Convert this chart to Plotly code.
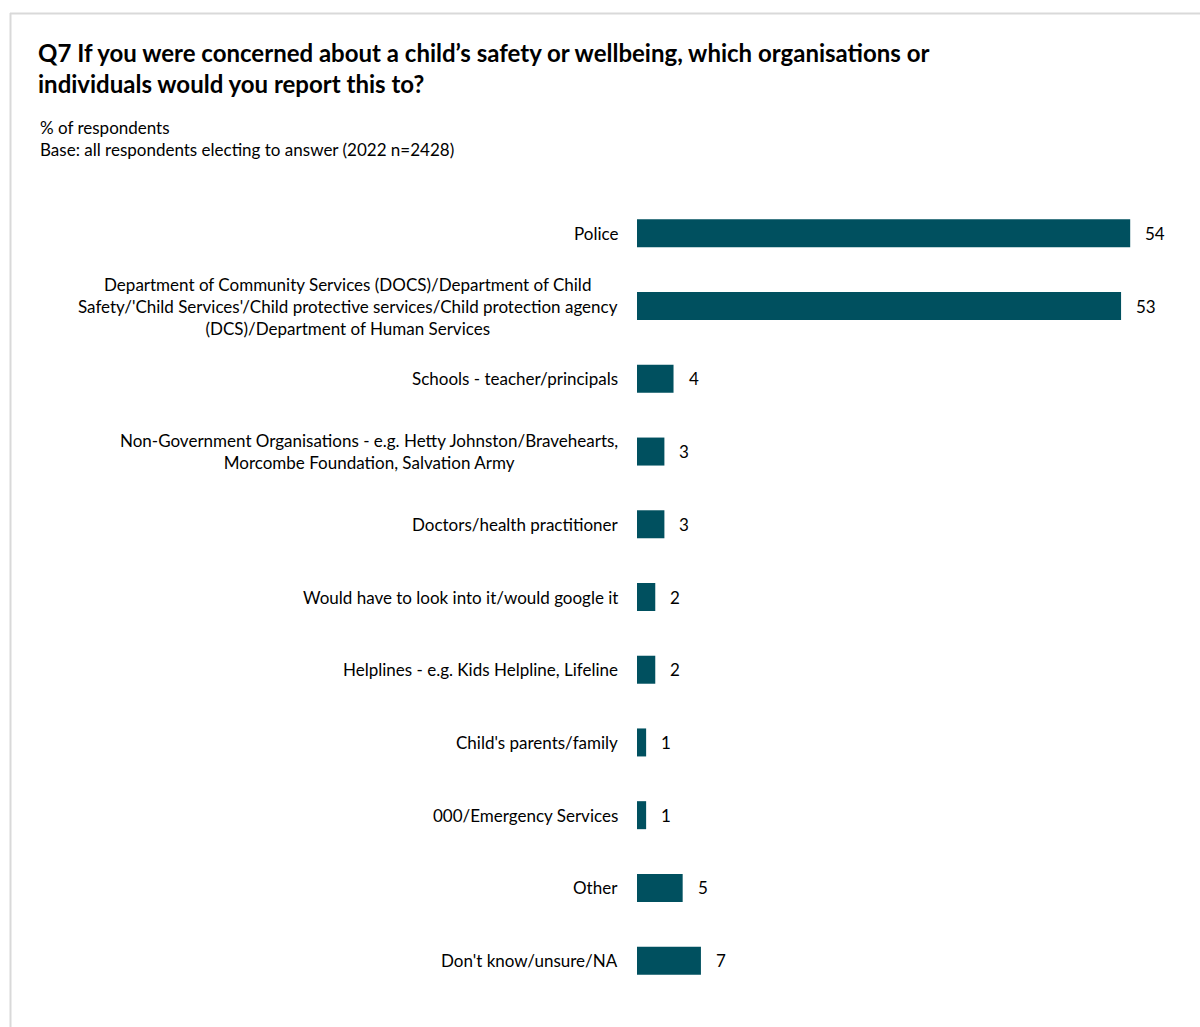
import plotly.graph_objects as go

categories = [
    "Police",
    "Department of Community Services (DOCS)/Department of Child<br>Safety/'Child Services'/Child protective services/Child protection agency<br>(DCS)/Department of Human Services",
    "Schools - teacher/principals",
    "Non-Government Organisations - e.g. Hetty Johnston/Bravehearts,<br>Morcombe Foundation, Salvation Army",
    "Doctors/health practitioner",
    "Would have to look into it/would google it",
    "Helplines - e.g. Kids Helpline, Lifeline",
    "Child's parents/family",
    "000/Emergency Services",
    "Other",
    "Don't know/unsure/NA",
]
values = [54, 53, 4, 3, 3, 2, 2, 1, 1, 5, 7]

FONT = "Lato"
BAR = "#00505F"
W, H = 1200, 1027
ML, MR, MT, MB = 637, 15, 197, 30
PW = W - ML - MR
PH = H - MT - MB

ids = list(range(len(categories)))

fig = go.Figure()
fig.add_trace(go.Bar(
    x=values, y=ids, orientation="h",
    marker=dict(color=BAR, line=dict(width=0)),
    width=0.385, hoverinfo="skip",
))

ann = []
for i, (c, v) in enumerate(zip(categories, values)):
    ann.append(dict(x=0, y=i, xref="x", yref="y", text=c, showarrow=False,
                    xanchor="right", yanchor="middle", align="center", xshift=-17,
                    font=dict(family=FONT, size=17, color="#000000")))
    ann.append(dict(x=v, y=i, xref="x", yref="y", text=str(v), showarrow=False,
                    xanchor="left", yanchor="middle", xshift=13,
                    font=dict(family=FONT, size=17, color="#000000")))

def px_x(p):
    return (p - ML) / PW

def px_y(p):
    return (H - MB - p) / PH

ann.append(dict(x=px_x(38), y=px_y(115), xref="paper", yref="paper",
                text="% of respondents<br>Base: all respondents electing to answer (2022 n=2428)",
                showarrow=False, xanchor="left", yanchor="top", align="left",
                font=dict(family=FONT, size=17, color="#000000")))

shapes = [
    dict(type="line", xref="paper", yref="paper", x0=px_x(10.5), x1=px_x(10.5),
         y0=px_y(13), y1=px_y(H), line=dict(color="#D9D9D9", width=2)),
    dict(type="line", xref="paper", yref="paper", x0=px_x(10), x1=px_x(W),
         y0=px_y(13.5), y1=px_y(13.5), line=dict(color="#D9D9D9", width=2)),
]

fig.update_layout(
    width=W, height=H,
    margin=dict(l=ML, r=MR, t=MT, b=MB, autoexpand=False),
    paper_bgcolor="white", plot_bgcolor="white",
    showlegend=False,
    title=dict(text="<b>Q7 If you were concerned about a child’s safety or wellbeing, which organisations or<br>individuals would you report this to?</b>",
               x=38 / W, xanchor="left", xref="container",
               y=1 - 62 / H, yanchor="top", yref="container",
               font=dict(family=FONT, size=24, color="#000000")),
    xaxis=dict(range=[0, 60], visible=False, fixedrange=True),
    yaxis=dict(range=[len(categories) - 0.5, -0.5], visible=False, fixedrange=True),
    annotations=ann, shapes=shapes,
)

fig.write_html("out.html", config={"displayModeBar": False},
               post_script="document.body.style.margin='0';document.body.style.padding='0';")
